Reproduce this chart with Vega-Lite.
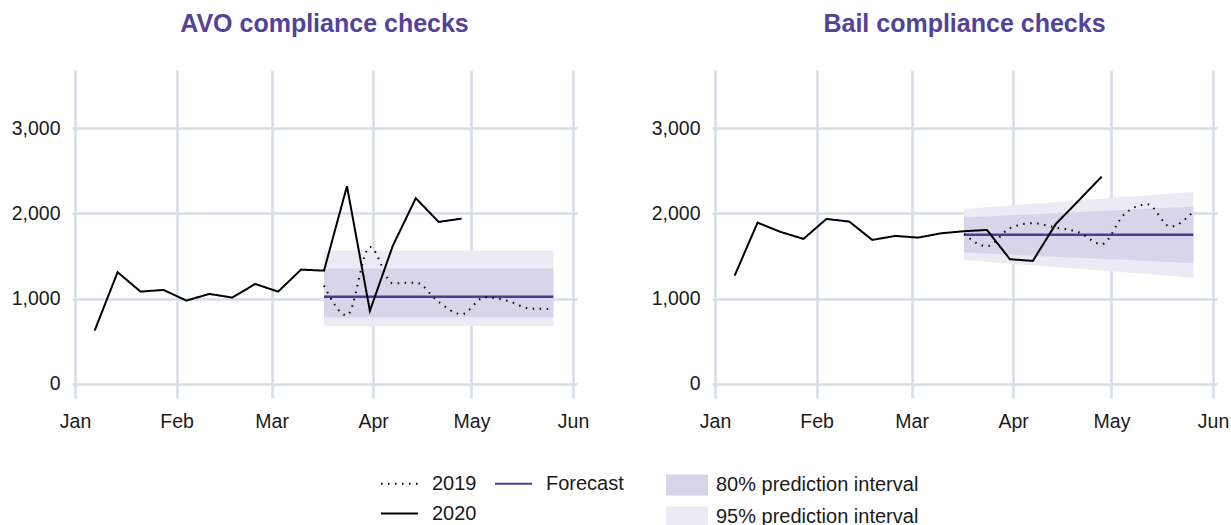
{
  "$schema": "https://vega.github.io/schema/vega-lite/v6.json",
  "padding": {"left": 11, "top": 11, "right": 5, "bottom": 5},
  "background": "white",
  "datasets": {
    "lines": [
      {"panel": "AVO", "series": "2020", "date": "2020-01-07T00:00:00", "value": 625},
      {"panel": "AVO", "series": "2020", "date": "2020-01-14T00:00:00", "value": 1310},
      {"panel": "AVO", "series": "2020", "date": "2020-01-21T00:00:00", "value": 1082},
      {"panel": "AVO", "series": "2020", "date": "2020-01-28T00:00:00", "value": 1102},
      {"panel": "AVO", "series": "2020", "date": "2020-02-04T00:00:00", "value": 977},
      {"panel": "AVO", "series": "2020", "date": "2020-02-11T00:00:00", "value": 1055},
      {"panel": "AVO", "series": "2020", "date": "2020-02-18T00:00:00", "value": 1012},
      {"panel": "AVO", "series": "2020", "date": "2020-02-25T00:00:00", "value": 1172},
      {"panel": "AVO", "series": "2020", "date": "2020-03-03T00:00:00", "value": 1082},
      {"panel": "AVO", "series": "2020", "date": "2020-03-10T00:00:00", "value": 1340},
      {"panel": "AVO", "series": "2020", "date": "2020-03-17T00:00:00", "value": 1328},
      {"panel": "AVO", "series": "2020", "date": "2020-03-24T00:00:00", "value": 2318},
      {"panel": "AVO", "series": "2020", "date": "2020-03-31T00:00:00", "value": 856},
      {"panel": "AVO", "series": "2020", "date": "2020-04-07T00:00:00", "value": 1620},
      {"panel": "AVO", "series": "2020", "date": "2020-04-14T00:00:00", "value": 2177},
      {"panel": "AVO", "series": "2020", "date": "2020-04-21T00:00:00", "value": 1899},
      {"panel": "AVO", "series": "2020", "date": "2020-04-28T00:00:00", "value": 1938},
      {"panel": "AVO", "series": "2019", "date": "2020-03-17T00:00:00", "value": 1153},
      {"panel": "AVO", "series": "2019", "date": "2020-03-24T00:00:00", "value": 805},
      {"panel": "AVO", "series": "2019", "date": "2020-03-31T00:00:00", "value": 1606},
      {"panel": "AVO", "series": "2019", "date": "2020-04-07T00:00:00", "value": 1180},
      {"panel": "AVO", "series": "2019", "date": "2020-04-14T00:00:00", "value": 1188},
      {"panel": "AVO", "series": "2019", "date": "2020-04-21T00:00:00", "value": 961},
      {"panel": "AVO", "series": "2019", "date": "2020-04-28T00:00:00", "value": 817},
      {"panel": "AVO", "series": "2019", "date": "2020-05-05T00:00:00", "value": 1016},
      {"panel": "AVO", "series": "2019", "date": "2020-05-12T00:00:00", "value": 975},
      {"panel": "AVO", "series": "2019", "date": "2020-05-19T00:00:00", "value": 883},
      {"panel": "AVO", "series": "2019", "date": "2020-05-26T00:00:00", "value": 879},
      {"panel": "AVO", "series": "Forecast", "date": "2020-03-17T00:00:00", "value": 1023},
      {"panel": "AVO", "series": "Forecast", "date": "2020-03-24T00:00:00", "value": 1023},
      {"panel": "AVO", "series": "Forecast", "date": "2020-03-31T00:00:00", "value": 1023},
      {"panel": "AVO", "series": "Forecast", "date": "2020-04-07T00:00:00", "value": 1023},
      {"panel": "AVO", "series": "Forecast", "date": "2020-04-14T00:00:00", "value": 1023},
      {"panel": "AVO", "series": "Forecast", "date": "2020-04-21T00:00:00", "value": 1023},
      {"panel": "AVO", "series": "Forecast", "date": "2020-04-28T00:00:00", "value": 1023},
      {"panel": "AVO", "series": "Forecast", "date": "2020-05-05T00:00:00", "value": 1023},
      {"panel": "AVO", "series": "Forecast", "date": "2020-05-12T00:00:00", "value": 1023},
      {"panel": "AVO", "series": "Forecast", "date": "2020-05-19T00:00:00", "value": 1023},
      {"panel": "AVO", "series": "Forecast", "date": "2020-05-26T00:00:00", "value": 1023},
      {"panel": "Bail", "series": "2020", "date": "2020-01-07T00:00:00", "value": 1270},
      {"panel": "Bail", "series": "2020", "date": "2020-01-14T00:00:00", "value": 1891},
      {"panel": "Bail", "series": "2020", "date": "2020-01-21T00:00:00", "value": 1782},
      {"panel": "Bail", "series": "2020", "date": "2020-01-28T00:00:00", "value": 1700},
      {"panel": "Bail", "series": "2020", "date": "2020-02-04T00:00:00", "value": 1934},
      {"panel": "Bail", "series": "2020", "date": "2020-02-11T00:00:00", "value": 1903},
      {"panel": "Bail", "series": "2020", "date": "2020-02-18T00:00:00", "value": 1688},
      {"panel": "Bail", "series": "2020", "date": "2020-02-25T00:00:00", "value": 1735},
      {"panel": "Bail", "series": "2020", "date": "2020-03-03T00:00:00", "value": 1715},
      {"panel": "Bail", "series": "2020", "date": "2020-03-10T00:00:00", "value": 1766},
      {"panel": "Bail", "series": "2020", "date": "2020-03-17T00:00:00", "value": 1790},
      {"panel": "Bail", "series": "2020", "date": "2020-03-24T00:00:00", "value": 1805},
      {"panel": "Bail", "series": "2020", "date": "2020-03-31T00:00:00", "value": 1462},
      {"panel": "Bail", "series": "2020", "date": "2020-04-07T00:00:00", "value": 1442},
      {"panel": "Bail", "series": "2020", "date": "2020-04-14T00:00:00", "value": 1874},
      {"panel": "Bail", "series": "2020", "date": "2020-04-21T00:00:00", "value": 2150},
      {"panel": "Bail", "series": "2020", "date": "2020-04-28T00:00:00", "value": 2430},
      {"panel": "Bail", "series": "2019", "date": "2020-03-17T00:00:00", "value": 1758},
      {"panel": "Bail", "series": "2019", "date": "2020-03-24T00:00:00", "value": 1614},
      {"panel": "Bail", "series": "2019", "date": "2020-03-31T00:00:00", "value": 1825},
      {"panel": "Bail", "series": "2019", "date": "2020-04-07T00:00:00", "value": 1884},
      {"panel": "Bail", "series": "2019", "date": "2020-04-14T00:00:00", "value": 1833},
      {"panel": "Bail", "series": "2019", "date": "2020-04-21T00:00:00", "value": 1778},
      {"panel": "Bail", "series": "2019", "date": "2020-04-28T00:00:00", "value": 1637},
      {"panel": "Bail", "series": "2019", "date": "2020-05-05T00:00:00", "value": 1993},
      {"panel": "Bail", "series": "2019", "date": "2020-05-12T00:00:00", "value": 2106},
      {"panel": "Bail", "series": "2019", "date": "2020-05-19T00:00:00", "value": 1844},
      {"panel": "Bail", "series": "2019", "date": "2020-05-26T00:00:00", "value": 2020},
      {"panel": "Bail", "series": "Forecast", "date": "2020-03-17T00:00:00", "value": 1750},
      {"panel": "Bail", "series": "Forecast", "date": "2020-03-24T00:00:00", "value": 1750},
      {"panel": "Bail", "series": "Forecast", "date": "2020-03-31T00:00:00", "value": 1750},
      {"panel": "Bail", "series": "Forecast", "date": "2020-04-07T00:00:00", "value": 1750},
      {"panel": "Bail", "series": "Forecast", "date": "2020-04-14T00:00:00", "value": 1750},
      {"panel": "Bail", "series": "Forecast", "date": "2020-04-21T00:00:00", "value": 1750},
      {"panel": "Bail", "series": "Forecast", "date": "2020-04-28T00:00:00", "value": 1750},
      {"panel": "Bail", "series": "Forecast", "date": "2020-05-05T00:00:00", "value": 1750},
      {"panel": "Bail", "series": "Forecast", "date": "2020-05-12T00:00:00", "value": 1750},
      {"panel": "Bail", "series": "Forecast", "date": "2020-05-19T00:00:00", "value": 1750},
      {"panel": "Bail", "series": "Forecast", "date": "2020-05-26T00:00:00", "value": 1750}
    ],
    "bands": [
      {"panel": "AVO", "date": "2020-03-17T00:00:00", "lo80": 782, "hi80": 1352, "lo95": 680, "hi95": 1563},
      {"panel": "AVO", "date": "2020-03-24T00:00:00", "lo80": 782, "hi80": 1352, "lo95": 680, "hi95": 1563},
      {"panel": "AVO", "date": "2020-03-31T00:00:00", "lo80": 782, "hi80": 1352, "lo95": 680, "hi95": 1563},
      {"panel": "AVO", "date": "2020-04-07T00:00:00", "lo80": 782, "hi80": 1352, "lo95": 680, "hi95": 1563},
      {"panel": "AVO", "date": "2020-04-14T00:00:00", "lo80": 782, "hi80": 1352, "lo95": 680, "hi95": 1563},
      {"panel": "AVO", "date": "2020-04-21T00:00:00", "lo80": 782, "hi80": 1352, "lo95": 680, "hi95": 1563},
      {"panel": "AVO", "date": "2020-04-28T00:00:00", "lo80": 782, "hi80": 1352, "lo95": 680, "hi95": 1563},
      {"panel": "AVO", "date": "2020-05-05T00:00:00", "lo80": 782, "hi80": 1352, "lo95": 680, "hi95": 1563},
      {"panel": "AVO", "date": "2020-05-12T00:00:00", "lo80": 782, "hi80": 1352, "lo95": 680, "hi95": 1563},
      {"panel": "AVO", "date": "2020-05-19T00:00:00", "lo80": 782, "hi80": 1352, "lo95": 680, "hi95": 1563},
      {"panel": "AVO", "date": "2020-05-26T00:00:00", "lo80": 782, "hi80": 1352, "lo95": 680, "hi95": 1563},
      {"panel": "Bail", "date": "2020-03-17T00:00:00", "lo80": 1540, "hi80": 1950, "lo95": 1454, "hi95": 2052},
      {"panel": "Bail", "date": "2020-03-24T00:00:00", "lo80": 1528, "hi80": 1963, "lo95": 1433, "hi95": 2072},
      {"panel": "Bail", "date": "2020-03-31T00:00:00", "lo80": 1516, "hi80": 1976, "lo95": 1412, "hi95": 2092},
      {"panel": "Bail", "date": "2020-04-07T00:00:00", "lo80": 1503, "hi80": 1989, "lo95": 1392, "hi95": 2112},
      {"panel": "Bail", "date": "2020-04-14T00:00:00", "lo80": 1491, "hi80": 2002, "lo95": 1371, "hi95": 2132},
      {"panel": "Bail", "date": "2020-04-21T00:00:00", "lo80": 1479, "hi80": 2015, "lo95": 1350, "hi95": 2152},
      {"panel": "Bail", "date": "2020-04-28T00:00:00", "lo80": 1467, "hi80": 2027, "lo95": 1329, "hi95": 2171},
      {"panel": "Bail", "date": "2020-05-05T00:00:00", "lo80": 1455, "hi80": 2040, "lo95": 1308, "hi95": 2191},
      {"panel": "Bail", "date": "2020-05-12T00:00:00", "lo80": 1442, "hi80": 2053, "lo95": 1288, "hi95": 2211},
      {"panel": "Bail", "date": "2020-05-19T00:00:00", "lo80": 1430, "hi80": 2066, "lo95": 1267, "hi95": 2231},
      {"panel": "Bail", "date": "2020-05-26T00:00:00", "lo80": 1418, "hi80": 2079, "lo95": 1246, "hi95": 2251}
    ]
  },
  "hconcat": [
    {
      "title": "AVO compliance checks",
      "width": 505,
      "height": 328,
      "layer": [
        {
          "data": {"name": "lines"},
          "transform": [{"filter": "false"}],
          "mark": {"type": "line"},
          "encoding": {
            "x": {"field": "date", "type": "temporal", "scale": {"domain": [{"year": 2019, "month": 12, "date": 31, "hours": 2}, {"year": 2020, "month": 6, "date": 2, "hours": 5}]}, "axis": {"format": "%b", "tickCount": {"interval": "month", "step": 1}}},
            "y": {"field": "value", "type": "quantitative", "scale": {"domain": [-165, 3680], "nice": false, "zero": false}, "axis": {"values": [0, 1000, 2000, 3000], "format": ",d"}},
            "color": {"field": "series", "type": "nominal", "scale": {"domain": ["2019", "Forecast", "2020"], "range": ["#000000", "#4B3D91", "#000000"]}, "legend": {"title": "\u00a0", "titleOrient": "left", "titleFontSize": 1, "titlePadding": 59, "columns": 2, "symbolType": "stroke", "symbolSize": 1369, "symbolStrokeWidth": 2, "columnPadding": 14, "rowPadding": 0, "labelOffset": 13}},
            "strokeDash": {"field": "series", "type": "nominal", "scale": {"domain": ["2019", "Forecast", "2020"], "range": [[1.5, 5.5], [1, 0], [1, 0]]}}
          }
        },
        {
          "data": {"name": "bands"},
          "transform": [{"filter": "datum.panel === 'AVO'"}, {"calculate": "'95% prediction interval'", "as": "band"}],
          "mark": {"type": "area"},
          "encoding": {
            "x": {"field": "date", "type": "temporal"},
            "y": {"field": "lo95", "type": "quantitative"},
            "y2": {"field": "hi95"},
            "fill": {"field": "band", "type": "nominal", "scale": {"domain": ["80% prediction interval", "95% prediction interval"], "range": ["#D8D4EA", "#ECEAF5"]}, "legend": {"direction": "vertical", "columns": 1, "symbolType": "M-1,-0.5H1V0.5H-1Z", "symbolSize": 1764, "symbolStrokeWidth": 0, "labelOffset": 8, "rowPadding": 0}}
          }
        },
        {
          "data": {"name": "bands"},
          "transform": [{"filter": "datum.panel === 'AVO'"}, {"calculate": "'80% prediction interval'", "as": "band"}],
          "mark": {"type": "area"},
          "encoding": {
            "x": {"field": "date", "type": "temporal"},
            "y": {"field": "lo80", "type": "quantitative"},
            "y2": {"field": "hi80"},
            "fill": {"field": "band", "type": "nominal"}
          }
        },
        {
          "data": {"name": "lines"},
          "transform": [{"filter": "datum.panel === 'AVO' && datum.series === 'Forecast'"}],
          "mark": {"type": "line", "strokeWidth": 2.5},
          "encoding": {
            "x": {"field": "date", "type": "temporal"},
            "y": {"field": "value", "type": "quantitative"},
            "color": {"field": "series", "type": "nominal"},
            "strokeDash": {"field": "series", "type": "nominal"}
          }
        },
        {
          "data": {"name": "lines"},
          "transform": [{"filter": "datum.panel === 'AVO' && datum.series === '2019'"}],
          "mark": {"type": "line", "strokeWidth": 2, "interpolate": "monotone"},
          "encoding": {
            "x": {"field": "date", "type": "temporal"},
            "y": {"field": "value", "type": "quantitative"},
            "color": {"field": "series", "type": "nominal"},
            "strokeDash": {"field": "series", "type": "nominal"}
          }
        },
        {
          "data": {"name": "lines"},
          "transform": [{"filter": "datum.panel === 'AVO' && datum.series === '2020'"}],
          "mark": {"type": "line", "strokeWidth": 2},
          "encoding": {
            "x": {"field": "date", "type": "temporal"},
            "y": {"field": "value", "type": "quantitative"},
            "color": {"field": "series", "type": "nominal"},
            "strokeDash": {"field": "series", "type": "nominal"}
          }
        }
      ]
    },
    {
      "title": "Bail compliance checks",
      "width": 505,
      "height": 328,
      "layer": [
        {
          "data": {"name": "lines"},
          "transform": [{"filter": "false"}],
          "mark": {"type": "line"},
          "encoding": {
            "x": {"field": "date", "type": "temporal", "scale": {"domain": [{"year": 2019, "month": 12, "date": 31, "hours": 2}, {"year": 2020, "month": 6, "date": 2, "hours": 5}]}, "axis": {"format": "%b", "tickCount": {"interval": "month", "step": 1}}},
            "y": {"field": "value", "type": "quantitative", "scale": {"domain": [-165, 3680], "nice": false, "zero": false}, "axis": {"values": [0, 1000, 2000, 3000], "format": ",d"}},
            "color": {"field": "series", "type": "nominal"},
            "strokeDash": {"field": "series", "type": "nominal"}
          }
        },
        {
          "data": {"name": "bands"},
          "transform": [{"filter": "datum.panel === 'Bail'"}, {"calculate": "'95% prediction interval'", "as": "band"}],
          "mark": {"type": "area"},
          "encoding": {
            "x": {"field": "date", "type": "temporal"},
            "y": {"field": "lo95", "type": "quantitative"},
            "y2": {"field": "hi95"},
            "fill": {"field": "band", "type": "nominal"}
          }
        },
        {
          "data": {"name": "bands"},
          "transform": [{"filter": "datum.panel === 'Bail'"}, {"calculate": "'80% prediction interval'", "as": "band"}],
          "mark": {"type": "area"},
          "encoding": {
            "x": {"field": "date", "type": "temporal"},
            "y": {"field": "lo80", "type": "quantitative"},
            "y2": {"field": "hi80"},
            "fill": {"field": "band", "type": "nominal"}
          }
        },
        {
          "data": {"name": "lines"},
          "transform": [{"filter": "datum.panel === 'Bail' && datum.series === 'Forecast'"}],
          "mark": {"type": "line", "strokeWidth": 2.5},
          "encoding": {
            "x": {"field": "date", "type": "temporal"},
            "y": {"field": "value", "type": "quantitative"},
            "color": {"field": "series", "type": "nominal"},
            "strokeDash": {"field": "series", "type": "nominal"}
          }
        },
        {
          "data": {"name": "lines"},
          "transform": [{"filter": "datum.panel === 'Bail' && datum.series === '2019'"}],
          "mark": {"type": "line", "strokeWidth": 2, "interpolate": "monotone"},
          "encoding": {
            "x": {"field": "date", "type": "temporal"},
            "y": {"field": "value", "type": "quantitative"},
            "color": {"field": "series", "type": "nominal"},
            "strokeDash": {"field": "series", "type": "nominal"}
          }
        },
        {
          "data": {"name": "lines"},
          "transform": [{"filter": "datum.panel === 'Bail' && datum.series === '2020'"}],
          "mark": {"type": "line", "strokeWidth": 2},
          "encoding": {
            "x": {"field": "date", "type": "temporal"},
            "y": {"field": "value", "type": "quantitative"},
            "color": {"field": "series", "type": "nominal"},
            "strokeDash": {"field": "series", "type": "nominal"}
          }
        }
      ]
    }
  ],
  "spacing": 62,
  "resolve": {"scale": {"x": "independent", "y": "independent", "color": "shared", "fill": "shared", "strokeDash": "shared"}},
  "config": {
    "view": {"stroke": null},
    "font": "Liberation Sans",
    "title": {"font": "Liberation Sans", "fontSize": 25, "fontWeight": "bold", "color": "#524399", "anchor": "middle", "offset": 33.5},
    "axis": {"domain": false, "ticks": false, "tickSize": 0, "gridColor": "#D6DDE5", "gridWidth": 2.5, "labelFont": "Liberation Sans", "labelFontSize": 19.5, "labelColor": "#1a1a1a", "title": null, "labelPadding": 12},
    "axisX": {"labelFlush": false, "labelPadding": 14},
    "legend": {"orient": "bottom", "title": null, "labelFont": "Liberation Sans", "labelFontSize": 20, "labelColor": "#1a1a1a", "labelLimit": 400, "offset": 33, "layout": {"bottom": {"anchor": "middle", "margin": 42}}}
  }
}
